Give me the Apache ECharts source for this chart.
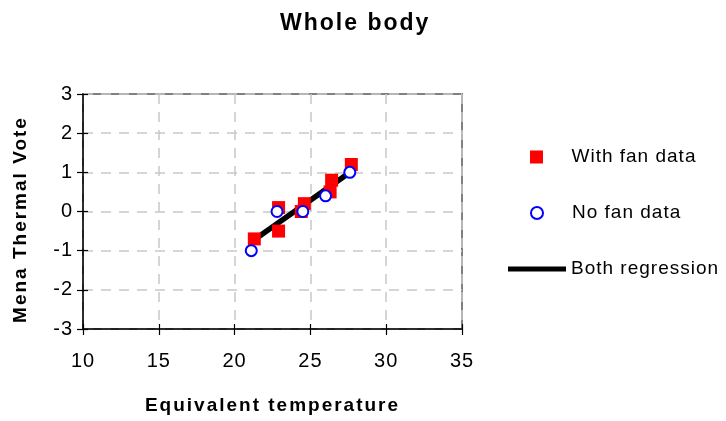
<!DOCTYPE html>
<html>
<head>
<meta charset="utf-8">
<script src="https://cdn.jsdelivr.net/npm/echarts@6/dist/echarts.min.js"></script>
<style>
  html, body { margin: 0; padding: 0; background: #fff; }
  #chart { width: 726px; height: 421px; }
</style>
</head>
<body>
<div id="chart"></div>
<script>
// Mean thermal vote against equivalent temperature, whole body
const withFanTemp = [21.3, 22.9, 22.9, 24.6, 24.4, 26.4, 26.3, 27.7];
const withFanVote = [-0.7, 0.1, -0.5, 0.2, 0.0, 0.8, 0.5, 1.2];
const noFanTemp = [21.1, 22.8, 24.5, 26.0, 27.6];
const noFanVote = [-1.0, 0.0, 0.0, 0.4, 1.0];
// Combined regression line, endpoints
const regTemp = [21.3, 27.5];
const regVote = [-0.72, 0.97];
const xTicks = [10, 15, 20, 25, 30, 35];
const yTicks = [-3, -2, -1, 0, 1, 2, 3];

const pairs = (xs, ys) => xs.map((x, i) => [x, ys[i]]);
const FONT = '"Liberation Sans", Arial, sans-serif';

// Slightly open tracking on all canvas text: 2px for bold, 1px otherwise
(function () {
  const proto = CanvasRenderingContext2D.prototype;
  if (!('letterSpacing' in proto)) return;
  const track = ctx => { ctx.letterSpacing = /bold|[6-9]00/.test(ctx.font) ? '2px' : '1px'; };
  ['fillText', 'strokeText', 'measureText'].forEach(fn => {
    const orig = proto[fn];
    proto[fn] = function () { track(this); return orig.apply(this, arguments); };
  });
})();

const chart = echarts.init(document.getElementById('chart'), null, { renderer: 'canvas' });

const xMin = xTicks[0], xMax = xTicks[xTicks.length - 1];
const yMin = yTicks[0], yMax = yTicks[yTicks.length - 1];
const xStep = xTicks[1] - xTicks[0];
const yStep = yTicks[1] - yTicks[0];

const legendText = { color: '#000', fontSize: 19, fontFamily: FONT };
const squareIcon = 'path://M0,0H10V10H0Z';
const circleIcon = 'path://M12,6A6,6 0 1 1 0,6A6,6 0 1 1 12,6Z';

chart.setOption({
  backgroundColor: '#fff',
  animation: false,
  title: {
    text: 'Whole body',
    left: 275,
    top: 6,
    textStyle: { fontSize: 23, fontWeight: 'bold', color: '#000', fontFamily: FONT }
  },
  legend: [
    {
      data: [{ name: 'With fan data', icon: squareIcon, itemStyle: { color: '#ff0000' } }],
      left: 530, top: 147, padding: 0,
      itemWidth: 60, itemHeight: 13, symbolKeepAspect: true,
      textStyle: legendText, selectedMode: false
    },
    {
      data: [{
        name: 'No fan data', icon: circleIcon,
        itemStyle: { color: '#fff', borderColor: '#0000ff', borderWidth: 2 }
      }],
      left: 530, top: 203, padding: 0,
      itemWidth: 60, itemHeight: 12, symbolKeepAspect: true,
      textStyle: legendText, selectedMode: false
    },
    {
      data: [{ name: 'Both regression', icon: 'rect', itemStyle: { color: '#000' } }],
      left: 508, top: 259, padding: 0,
      itemWidth: 58, itemHeight: 5,
      textStyle: legendText, selectedMode: false
    }
  ],
  grid: {
    left: 83, right: 264, top: 94, bottom: 92,
    show: true, borderColor: '#808080', borderWidth: 2, backgroundColor: '#fff'
  },
  xAxis: [
    {
      type: 'value', min: xMin, max: xMax, interval: xStep,
      name: 'Equivalent temperature',
      nameLocation: 'middle', nameGap: 66,
      nameTextStyle: { fontSize: 19, fontWeight: 'bold', color: '#000', fontFamily: FONT },
      axisLine: { show: true, onZero: false, lineStyle: { color: '#000', width: 1.5 } },
      axisTick: { show: true, length: 6, lineStyle: { color: '#000', width: 1.2 } },
      axisLabel: { margin: 22, fontSize: 20, color: '#000', fontFamily: FONT },
      splitLine: { show: true, lineStyle: { color: '#c8c8c8', type: [10, 8], width: 1.5 } }
    },
    {
      // inner half of the crossing tick marks
      type: 'value', min: xMin, max: xMax, interval: xStep, position: 'bottom',
      axisLine: { show: false, onZero: false },
      axisTick: { show: true, inside: true, length: 5, lineStyle: { color: '#000', width: 1.2 } },
      axisLabel: { show: false }, splitLine: { show: false }
    }
  ],
  yAxis: [
    {
      type: 'value', min: yMin, max: yMax, interval: yStep,
      name: 'Mena Thermal Vote',
      nameLocation: 'middle', nameGap: 52,
      nameTextStyle: {
        fontSize: 19, fontWeight: 'bold', color: '#000', fontFamily: FONT,
        padding: [0, 16, 0, 0]
      },
      axisLine: { show: true, onZero: false, lineStyle: { color: '#000', width: 1.5 } },
      axisTick: { show: true, length: 6, lineStyle: { color: '#000', width: 1.2 } },
      axisLabel: { margin: 10, fontSize: 20, color: '#000', fontFamily: FONT },
      splitLine: { show: true, lineStyle: { color: '#c8c8c8', type: [10, 8], width: 1.5 } }
    },
    {
      type: 'value', min: yMin, max: yMax, interval: yStep, position: 'left',
      axisLine: { show: false, onZero: false },
      axisTick: { show: true, inside: true, length: 5, lineStyle: { color: '#000', width: 1.2 } },
      axisLabel: { show: false }, splitLine: { show: false }
    }
  ],
  series: [
    {
      name: 'Both regression',
      type: 'line',
      data: pairs(regTemp, regVote),
      showSymbol: false, symbol: 'none',
      lineStyle: { color: '#000', width: 5.5 },
      itemStyle: { color: '#000' },
      z: 2
    },
    {
      name: 'With fan data',
      type: 'scatter',
      data: pairs(withFanTemp, withFanVote),
      symbol: 'rect', symbolSize: 13,
      itemStyle: { color: '#ff0000', opacity: 1 },
      z: 3
    },
    {
      name: 'No fan data',
      type: 'scatter',
      data: pairs(noFanTemp, noFanVote),
      symbol: 'circle', symbolSize: 11,
      itemStyle: { color: '#fff', borderColor: '#0000ff', borderWidth: 2, opacity: 1 },
      z: 4
    }
  ]
});
</script>
</body>
</html>
